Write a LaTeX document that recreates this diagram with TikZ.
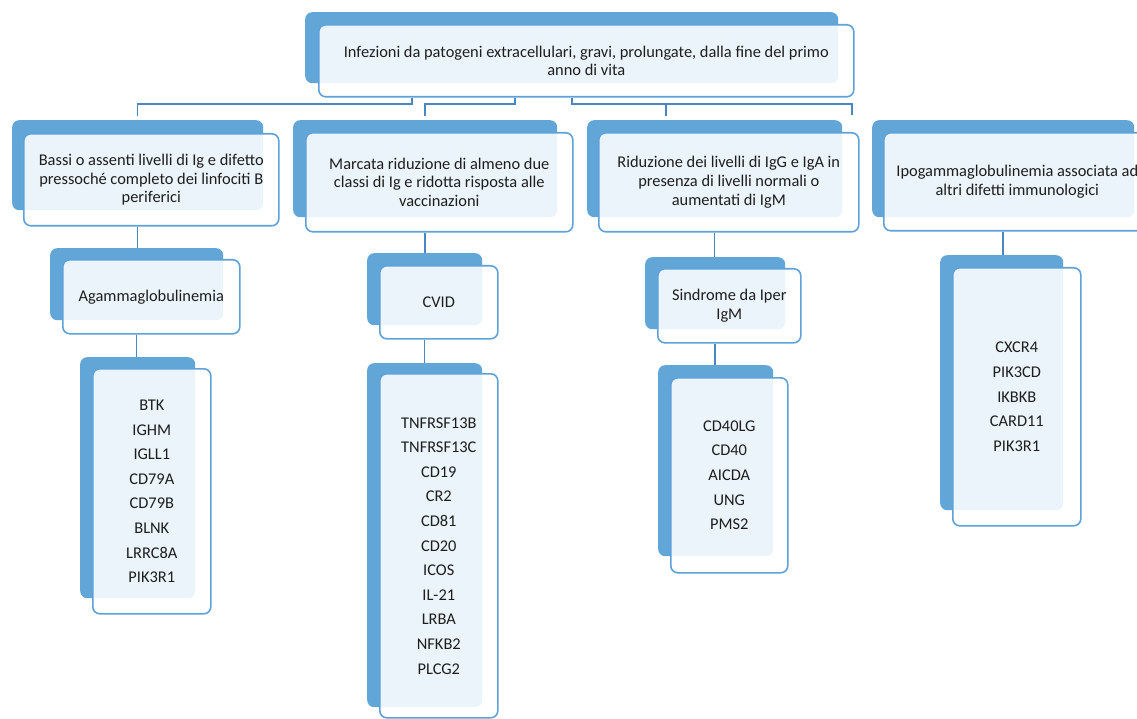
\documentclass[tikz,border=0pt]{standalone}
\usepackage{fontspec}
\setmainfont{Carlito}
\definecolor{backblue}{HTML}{62A6D8}
\definecolor{edgeblue}{HTML}{5FA2DA}
\definecolor{linkblue}{HTML}{4A87C0}
\definecolor{txt}{HTML}{1E1E1E}
\tikzset{
  backbox/.style={fill=backblue, draw=none, rounded corners=7pt, anchor=north west, inner sep=0pt},
  frontbox/.style={fill=white, fill opacity=0.88, text opacity=1, draw=edgeblue, line width=1.6pt,
    rounded corners=7pt, anchor=north west, inner sep=2pt, align=center, text=txt,
    font=\fontsize{16.4}{18.8}\selectfont},
  genebox/.style={frontbox, font=\fontsize{16.4}{24.6}\selectfont},
  conn/.style={draw=linkblue, line width=1.5pt},
}
\begin{document}
\begin{tikzpicture}[x=1pt,y=-1pt]
\clip (0,0) rectangle (1137,719);
\fill[white] (0,0) rectangle (1137,719);
% back boxes
\node[backbox, minimum width=533pt, minimum height=71pt] (topback) at (305,12) {};
\node[backbox, minimum width=251pt, minimum height=90pt] (b1back) at (12,120) {};
\node[backbox, minimum width=264pt, minimum height=97pt] (b2back) at (293,120) {};
\node[backbox, minimum width=255pt, minimum height=97pt] (b3back) at (587,120) {};
\node[backbox, minimum width=262pt, minimum height=97pt] (b4back) at (872,120) {};
\node[backbox, minimum width=173pt, minimum height=72pt] (agback) at (50,248) {};
\node[backbox, minimum width=115pt, minimum height=72pt] (cvidback) at (367,253) {};
\node[backbox, minimum width=140pt, minimum height=72pt] (sindback) at (645,257) {};
\node[backbox, minimum width=115pt, minimum height=241pt] (l1back) at (80,357) {};
\node[backbox, minimum width=115pt, minimum height=344pt] (l2back) at (367,363) {};
\node[backbox, minimum width=115pt, minimum height=191pt] (l3back) at (658,365) {};
\node[backbox, minimum width=123pt, minimum height=255pt] (l4back) at (940,255) {};
% front boxes
\node[frontbox, minimum width=535pt, minimum height=72pt] (top) at (318,24)
  {Infezioni da patogeni extracellulari, gravi, prolungate, dalla fine del primo\\anno di vita};
\node[frontbox, minimum width=255pt, minimum height=92pt] (b1) at (23,133)
  {Bassi o assenti livelli di Ig e difetto\\pressoché completo dei linfociti B\\periferici};
\node[frontbox, minimum width=267pt, minimum height=99pt] (b2) at (305,132)
  {Marcata riduzione di almeno due\\classi di Ig e ridotta risposta alle\\vaccinazioni};
\node[frontbox, minimum width=260pt, minimum height=99pt] (b3) at (598,132)
  {Riduzione dei livelli di IgG e IgA in\\presenza di livelli normali o\\aumentati di IgM};
\node[frontbox, minimum width=267pt, minimum height=98pt] (b4) at (883,132)
  {Ipogammaglobulinemia associata ad\\altri difetti immunologici};
\node[frontbox, minimum width=177pt, minimum height=74pt] (ag) at (62,259) {Agammaglobulinemia};
\node[frontbox, minimum width=118pt, minimum height=73pt] (cvid) at (379,265) {CVID};
\node[frontbox, minimum width=143pt, minimum height=74pt] (sind) at (657,268) {Sindrome da Iper\\IgM};
\node[genebox, minimum width=118pt, minimum height=245pt] (l1) at (92,368)
  {BTK\\IGHM\\IGLL1\\CD79A\\CD79B\\BLNK\\LRRC8A\\PIK3R1};
\node[genebox, minimum width=118pt, minimum height=344pt] (l2) at (379,373)
  {TNFRSF13B\\TNFRSF13C\\CD19\\CR2\\CD81\\CD20\\ICOS\\IL-21\\LRBA\\NFKB2\\PLCG2};
\node[genebox, minimum width=117pt, minimum height=195pt] (l3) at (670,377)
  {CD40LG\\CD40\\AICDA\\UNG\\PMS2};
\node[genebox, minimum width=128pt, minimum height=258pt] (l4) at (952,267)
  {CXCR4\\PIK3CD\\IKBKB\\CARD11\\PIK3R1};
% connectors from the top box
\coordinate (j1) at (412,104);
\coordinate (j2) at (515,104);
\coordinate (j3) at (572,104);
\coordinate (e3) at (666,116);
\coordinate (e4) at (852,115);
\draw[conn] (top.south -| j1) -- (j1) -| ([yshift=4pt]b1back.north);
\draw[conn] (top.south -| j2) -- (j2) -| ([yshift=4pt]b2back.north);
\draw[conn] (top.south -| j3) -- (j3) -| (e4);
\draw[conn] (j3 -| e3) -- (e3);
% column connectors
\draw[conn] (b1back.center |- b1.south) -- (b1back.center |- agback.north);
\draw[conn] (agback.center |- ag.south) -- (agback.center |- l1back.north);
\draw[conn] (b2back.center |- b2.south) -- (b2back.center |- cvidback.north);
\draw[conn] (cvidback.center |- cvid.south) -- (cvidback.center |- l2back.north);
\draw[conn] (b3back.center |- b3.south) -- (b3back.center |- sindback.north);
\draw[conn] (sindback.center |- sind.south) -- (sindback.center |- l3back.north);
\draw[conn] (b4back.center |- b4.south) -- (b4back.center |- l4back.north);
\end{tikzpicture}
\end{document}
